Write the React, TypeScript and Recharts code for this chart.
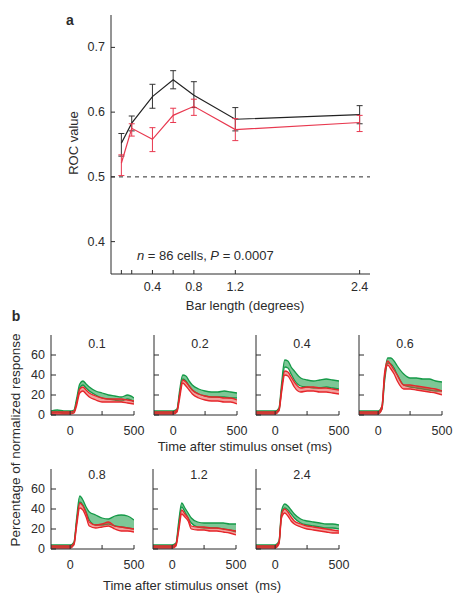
import React from 'react';
import {
  ComposedChart,
  LineChart,
  Line,
  Area,
  XAxis,
  YAxis,
  ErrorBar,
  ReferenceLine,
} from 'recharts';

// ---- panel a: ROC vs bar length ----
const barLengths = [0.1, 0.2, 0.4, 0.6, 0.8, 1.2, 2.4];
const rocBlack = [0.552, 0.583, 0.624, 0.65, 0.626, 0.589, 0.596];
const rocBlackLow = [0.532, 0.571, 0.606, 0.636, 0.607, 0.571, 0.582];
const rocBlackHigh = [0.567, 0.594, 0.643, 0.664, 0.647, 0.607, 0.61];
const rocRed = [0.521, 0.575, 0.558, 0.595, 0.609, 0.573, 0.584];
const rocRedLow = [0.502, 0.563, 0.539, 0.584, 0.595, 0.556, 0.57];
const rocRedHigh = [0.534, 0.582, 0.576, 0.606, 0.62, 0.59, 0.595];
const rocXTicks = [0.1, 0.2, 0.4, 0.6, 0.8, 1.2, 2.4];
const rocXLabels = [0.4, 0.8, 1.2, 2.4];
const rocYTicks = [0.4, 0.5, 0.6, 0.7];

// ---- panel b: response time courses ----
const timeMs = [-150, -100, -50, 0, 30, 50, 75, 100, 125, 150, 200, 250, 300, 350, 400, 450, 500];
const timeTicks = [0, 250, 500];
const timeLabels = [0, 500];
const respTicks = [0, 20, 40, 60];

const green01Lo = [2, 3, 2, 2, 3, 13, 27, 30, 27, 24, 20, 17, 16, 15, 14, 16, 13];
const green01Hi = [4, 5, 4, 4, 5, 16, 31, 34, 31, 28, 24, 22, 20, 19, 18, 20, 17];
const red01Lo = [1, 1, 1, 1, 2, 9, 22, 24, 21, 18, 15, 13, 13, 13, 13, 12, 11];
const red01Hi = [3, 3, 3, 3, 4, 12, 26, 28, 25, 22, 19, 17, 16, 16, 16, 15, 14];

const green02Lo = [2, 2, 2, 2, 4, 20, 36, 34, 29, 25, 21, 19, 18, 18, 18, 17, 17];
const green02Hi = [4, 4, 4, 4, 6, 24, 40, 39, 34, 30, 26, 24, 23, 23, 24, 23, 22];
const red02Lo = [1, 1, 1, 1, 3, 16, 32, 29, 25, 21, 17, 15, 14, 14, 13, 13, 11];
const red02Hi = [3, 3, 3, 3, 5, 20, 35, 33, 29, 25, 21, 19, 18, 18, 17, 17, 15];

const green04Lo = [2, 2, 2, 2, 5, 25, 48, 47, 41, 35, 29, 28, 27, 27, 28, 27, 26];
const green04Hi = [4, 4, 4, 4, 7, 31, 55, 54, 48, 44, 37, 35, 34, 35, 36, 35, 34];
const red04Lo = [1, 1, 1, 1, 4, 22, 40, 39, 34, 28, 23, 24, 24, 23, 23, 22, 21];
const red04Hi = [3, 3, 3, 3, 6, 26, 44, 43, 38, 33, 27, 28, 28, 27, 27, 26, 25];

const green06Lo = [2, 2, 2, 2, 6, 33, 52, 51, 47, 40, 30, 28, 27, 26, 25, 24, 24];
const green06Hi = [4, 4, 4, 4, 9, 39, 57, 57, 54, 49, 41, 37, 37, 36, 36, 34, 33];
const red06Lo = [1, 1, 1, 1, 6, 37, 50, 46, 41, 34, 26, 26, 25, 24, 23, 22, 20];
const red06Hi = [3, 3, 3, 3, 9, 42, 54, 50, 45, 40, 30, 30, 29, 28, 27, 26, 24];

const green08Lo = [2, 2, 2, 2, 5, 26, 47, 44, 37, 29, 24, 24, 25, 23, 22, 21, 20];
const green08Hi = [4, 4, 4, 4, 7, 30, 53, 49, 42, 37, 34, 31, 30, 33, 34, 33, 29];
const red08Lo = [1, 1, 1, 1, 4, 22, 41, 39, 32, 23, 21, 22, 23, 20, 18, 18, 17];
const red08Hi = [3, 3, 3, 3, 6, 26, 46, 43, 36, 27, 24, 25, 27, 23, 22, 21, 20];

const green12Lo = [2, 2, 2, 2, 4, 22, 42, 37, 31, 26, 22, 21, 21, 21, 20, 19, 17];
const green12Hi = [4, 4, 4, 4, 6, 26, 46, 41, 36, 31, 27, 26, 26, 26, 26, 25, 25];
const red12Lo = [1, 1, 1, 1, 3, 17, 35, 32, 28, 20, 19, 19, 18, 18, 17, 16, 14];
const red12Hi = [3, 3, 3, 3, 5, 20, 39, 35, 31, 23, 22, 22, 21, 21, 20, 19, 18];

const green24Lo = [2, 2, 2, 2, 6, 34, 41, 39, 35, 31, 26, 24, 23, 22, 21, 21, 20];
const green24Hi = [4, 4, 4, 4, 8, 38, 45, 43, 39, 35, 30, 28, 27, 26, 25, 25, 24];
const red24Lo = [1, 1, 1, 1, 5, 31, 36, 33, 28, 25, 22, 20, 19, 18, 17, 16, 16];
const red24Hi = [3, 3, 3, 3, 7, 35, 40, 37, 32, 28, 25, 23, 22, 21, 20, 19, 18];

const FONT = '"Liberation Sans", Arial, Helvetica, sans-serif';
const INK = '#2b2b2b';

const rocData = barLengths.map((x, i) => ({
  x,
  black: rocBlack[i],
  blackErr: [rocBlack[i] - rocBlackLow[i], rocBlackHigh[i] - rocBlack[i]],
  red: rocRed[i],
  redErr: [rocRed[i] - rocRedLow[i], rocRedHigh[i] - rocRed[i]],
}));

const makeRows = (gLo: number[], gHi: number[], rLo: number[], rHi: number[]) =>
  timeMs.map((t, i) => ({ t, g: [gLo[i], gHi[i]], r: [rLo[i], rHi[i]] }));

// axisX = pixel of y-axis line, top = plot top
const panels = [
  { title: '0.1', rows: makeRows(green01Lo, green01Hi, red01Lo, red01Hi), axisX: 51, top: 335, yLabels: true },
  { title: '0.2', rows: makeRows(green02Lo, green02Hi, red02Lo, red02Hi), axisX: 154, top: 335, yLabels: false },
  { title: '0.4', rows: makeRows(green04Lo, green04Hi, red04Lo, red04Hi), axisX: 256, top: 335, yLabels: false },
  { title: '0.6', rows: makeRows(green06Lo, green06Hi, red06Lo, red06Hi), axisX: 359, top: 335, yLabels: false },
  { title: '0.8', rows: makeRows(green08Lo, green08Hi, red08Lo, red08Hi), axisX: 51, top: 469, yLabels: true },
  { title: '1.2', rows: makeRows(green12Lo, green12Hi, red12Lo, red12Hi), axisX: 153, top: 469, yLabels: false },
  { title: '2.4', rows: makeRows(green24Lo, green24Hi, red24Lo, red24Hi), axisX: 256, top: 469, yLabels: false },
];

// inward tick marks, labels drawn by hand
const bottomTick = (labels: number[], len: number, gap: number, size: number) => (props: any) => {
  const { x, y, payload } = props;
  return (
    <g>
      <line x1={x} x2={x} y1={y} y2={y - len} stroke={INK} strokeWidth={1} />
      {labels.includes(payload.value) && (
        <text x={x} y={y + gap} textAnchor="middle" dominantBaseline="central" fontSize={size} fill={INK} fontFamily={FONT}>
          {payload.value}
        </text>
      )}
    </g>
  );
};

const leftTick = (labels: number[], len: number, gap: number, size: number) => (props: any) => {
  const { x, y, payload } = props;
  return (
    <g>
      <line x1={x} x2={x + len} y1={y} y2={y} stroke={INK} strokeWidth={1} />
      {labels.includes(payload.value) && (
        <text x={x - gap} y={y} textAnchor="end" dominantBaseline="central" fontSize={size} fill={INK} fontFamily={FONT}>
          {payload.value}
        </text>
      )}
    </g>
  );
};

const Txt = ({ x, y, size = 13, bold = false, rotate = false, left = false, children }: any) => (
  <div
    style={{
      position: 'absolute',
      left: x,
      top: y,
      transform: `translate(${left ? '0' : '-50%'}, -50%)${rotate ? ' rotate(-90deg)' : ''}`,
      fontSize: size,
      fontWeight: bold ? 700 : 400,
      fontFamily: FONT,
      color: INK,
      whiteSpace: 'pre',
      lineHeight: 1,
    }}
  >
    {children}
  </div>
);

const PW = 83; // plot width of small panels
const PH = 80;
const ML = 30;
const MT = 10;

const Panel = ({ p }: any) => (
  <div style={{ position: 'absolute', left: p.axisX - ML, top: p.top - MT }}>
    <ComposedChart width={ML + PW + 14} height={MT + PH + 30} data={p.rows} margin={{ top: MT, left: ML - 1, right: 14, bottom: 29 }}>
      <XAxis
        dataKey="t"
        type="number"
        domain={[-150, 500]}
        ticks={timeTicks}
        interval={0}
        allowDataOverflow
        height={1}
        tickSize={0}
        tickMargin={0}
        tickLine={false}
        stroke={INK}
        tick={bottomTick(timeLabels, 4, 16, 12.5)}
      />
      <YAxis
        type="number"
        domain={[0, 80]}
        ticks={respTicks}
        interval={0}
        allowDataOverflow
        width={1}
        tickSize={0}
        tickMargin={0}
        tickLine={false}
        stroke={INK}
        tick={leftTick(p.yLabels ? respTicks : [], 5, 6, 12.5)}
      />
      <Area
        type="monotone"
        dataKey="g"
        stroke="#159a48"
        strokeWidth={1.3}
        fill="#37a95e"
        fillOpacity={0.65}
        isAnimationActive={false}
      />
      <Area
        type="monotone"
        dataKey="r"
        stroke="#e6262b"
        strokeWidth={1.3}
        fill="#e5413a"
        fillOpacity={0.5}
        isAnimationActive={false}
      />
    </ComposedChart>
  </div>
);

export default function App() {
  return (
    <div style={{ position: 'absolute', left: 0, top: 0, width: 462, height: 601, background: '#fff', overflow: 'hidden' }}>
      <div style={{ position: 'absolute', left: 0, top: 0 }}>
        <LineChart width={462} height={300} data={rocData} margin={{ top: 15, left: 110, right: 92, bottom: 25 }}>
          <XAxis
            dataKey="x"
            type="number"
            domain={[0, 2.5]}
            ticks={rocXTicks}
            interval={0}
            allowDataOverflow
            height={1}
            tickSize={0}
            tickMargin={0}
            tickLine={false}
            stroke={INK}
            tick={bottomTick(rocXLabels, 4, 13, 12.5)}
          />
          <YAxis
            type="number"
            domain={[0.35, 0.75]}
            ticks={rocYTicks}
            interval={0}
            allowDataOverflow
            width={1}
            tickSize={0}
            tickMargin={0}
            tickLine={false}
            stroke={INK}
            tick={leftTick(rocYTicks, 4, 6, 12.5)}
          />
          <ReferenceLine y={0.5} stroke={INK} strokeDasharray="4 4" />
          <Line dataKey="black" stroke="#222" strokeWidth={1.2} dot={false} isAnimationActive={false}>
            <ErrorBar dataKey="blackErr" direction="y" width={3} stroke="#333" strokeWidth={1} isAnimationActive={false} />
          </Line>
          <Line dataKey="red" stroke="#e8384f" strokeWidth={1.2} dot={false} isAnimationActive={false}>
            <ErrorBar dataKey="redErr" direction="y" width={3} stroke="#e8384f" strokeWidth={1} isAnimationActive={false} />
          </Line>
        </LineChart>
      </div>

      {panels.map((p) => (
        <Panel key={p.title} p={p} />
      ))}
      {panels.map((p) => (
        <Txt key={'t' + p.title} x={p.axisX + 46} y={p.top + (p.top < 400 ? 9 : 6)} size={12.5}>
          {p.title}
        </Txt>
      ))}

      <Txt x={70} y={20} size={14} bold>a</Txt>
      <Txt x={16} y={316} size={14} bold>b</Txt>
      <Txt x={73} y={143} rotate>ROC value</Txt>
      <Txt x={245} y={305}>Bar length (degrees)</Txt>
      <Txt x={137} y={255} left>
        <i>n</i> = 86 cells, <i>P</i> = 0.0007
      </Txt>
      <Txt x={16} y={440} size={13.5} rotate>Percentage of normalized response</Txt>
      <Txt x={245} y={446}>Time after stimulus onset (ms)</Txt>
      <Txt x={192} y={585}>Time after stimulus onset  (ms)</Txt>
    </div>
  );
}
